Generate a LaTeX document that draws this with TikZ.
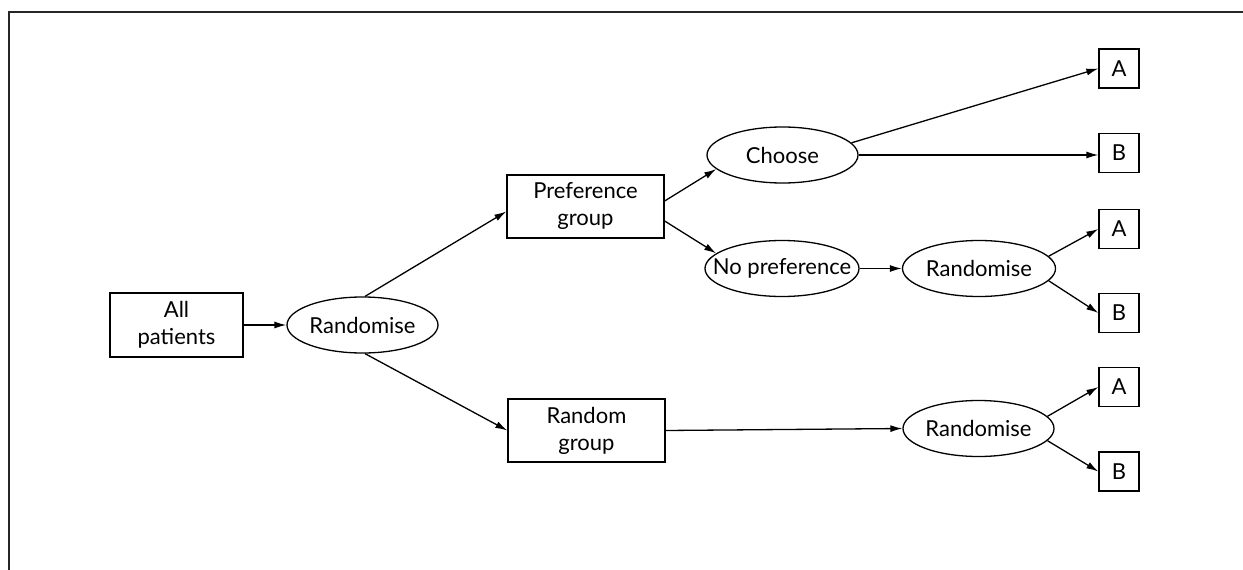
\documentclass[tikz,border=0pt]{standalone}
\usepackage{fontspec}
\setmainfont{Lato}
\usetikzlibrary{shapes.geometric,arrows.meta}
\newcommand\ctr[1]{\makebox[0pt]{#1}}
\begin{document}
\begin{tikzpicture}[x=1pt,y=-1pt,
  every node/.style={font=\fontsize{22}{27}\selectfont},
  box/.style={draw,line width=1.3pt,inner sep=0pt,align=center},
  bigbox/.style={box,minimum width=157pt,minimum height=63pt},
  leaf/.style={box,minimum width=40pt,minimum height=39pt},
  ell/.style={draw,line width=1.3pt,ellipse,inner sep=0pt,minimum width=151pt,minimum height=56pt},
  arr/.style={line width=1.3pt,-{Latex[length=12pt,width=7pt]}},
  frame/.style={line width=2pt,draw=black!85}]
\useasboundingbox (0,0) rectangle (1243,570);
% partial frame
\draw[frame] (9,570) -- (9,12) -- (1243,12);

% nodes
\node[box,minimum width=133pt,minimum height=64pt] (all) at (176.5,325) {All\\patients};
\node[ell] (r1) at (362.5,325) {\ctr{Randomise}};
\node[bigbox] (pref) at (585.5,206.5) {Preference\\group};
\node[bigbox] (rand) at (586.5,430.5) {Random\\group};
\node[ell] (ch) at (782.5,155) {\ctr{Choose}};
\node[ell,minimum width=154pt] (np) at (782,268.5) {\ctr{No preference}};
\node[ell,minimum width=153pt] (r2) at (979,268.5) {\ctr{Randomise}};
\node[ell] (r3) at (978.5,428.5) {\ctr{Randomise}};
\node[leaf] (a1) at (1119,68.5) {A};
\node[leaf] (b1) at (1119,153) {B};
\node[leaf] (a2) at (1119,229) {A};
\node[leaf] (b2) at (1119,313) {B};
\node[leaf] (a3) at (1119,387) {A};
\node[leaf] (b3) at (1119,471.5) {B};

% connectors
\draw[arr] (all.east) -- (r1.west);
\draw[arr] (r1.85) -- ([yshift=-5pt]pref.west);
\draw[arr] (r1.-85) -- (rand.west);
\draw[arr] ([yshift=5.5pt]pref.east) -- (ch.192);
\draw[arr] ([yshift=-14.5pt]pref.east) -- (np.167);
\draw[arr] (np.east) -- (r2.west);
\draw[arr] (rand.east) -- (r3.west);
\draw[arr] (ch.10) -- (a1.west);
\draw[arr] (ch.east) -- (ch.east -| b1.west);
\draw[arr] (r2.10) -- (a2.west);
\draw[arr] (r2.-10) -- (b2.west);
\draw[arr] (r3.10) -- (a3.west);
\draw[arr] (r3.-10) -- (b3.west);
\end{tikzpicture}
\end{document}
